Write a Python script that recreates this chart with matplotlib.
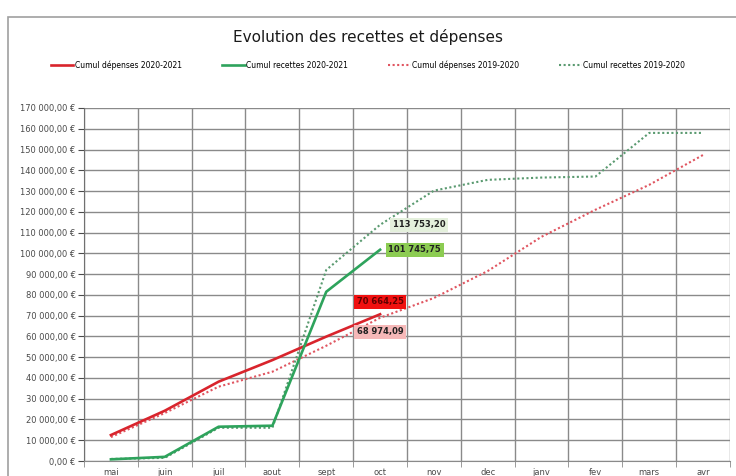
import matplotlib.pyplot as plt
from matplotlib.patches import Rectangle
from matplotlib.ticker import FuncFormatter

months = ["mai", "juin", "juil", "aout", "sept", "oct", "nov", "dec", "janv", "fev", "mars", "avr"]
dep_2021 = [12500, 24200, 38200, 48600, 59900, 70664.25]
rec_2021 = [800, 2000, 16500, 17000, 81500, 101745.75]
dep_1920 = [11500, 23100, 35800, 43000, 55500, 68974.09, 78500, 91500, 108000, 121000, 133000, 147400]
rec_1920 = [1000, 1500, 16000, 16000, 92000, 113753.20, 130200, 135400, 136500, 137000, 158000, 158000]


def euro(v, pos=None):
    return "{:,.2f} €".format(v).replace(",", " ").replace(".", ",")


def num(v):
    return "{:,.2f}".format(v).replace(",", " ").replace(".", ",")


fig = plt.figure(figsize=(7.36, 4.76), dpi=100)
fig.patches.append(Rectangle((8 / 736, -0.1), 1.0, (476 - 17) / 476 + 0.1,
                             transform=fig.transFigure, fill=False,
                             edgecolor="#a0a0a0", lw=1.2))
ax = fig.add_axes([84 / 736, 15 / 476, 646 / 736, 353 / 476])

x1 = range(len(dep_2021))
x2 = range(len(dep_1920))
ax.plot(x1, dep_2021, color="#d9242c", lw=1.9, label="Cumul dépenses 2020-2021", zorder=4)
ax.plot(x1, rec_2021, color="#2ea35c", lw=1.9, label="Cumul recettes 2020-2021", zorder=4)
ax.plot(x2, dep_1920, color="#e05560", lw=1.5, ls=(0, (1, 1.2)), label="Cumul dépenses 2019-2020", zorder=3)
ax.plot(x2, rec_1920, color="#5a9a70", lw=1.5, ls=(0, (1, 1.2)), label="Cumul recettes 2019-2020", zorder=3)

ax.set_xlim(-0.5, len(months) - 0.5)
ax.set_ylim(0, 170000)
ax.set_yticks(range(0, 170001, 10000))
ax.yaxis.set_major_formatter(FuncFormatter(euro))
ax.set_xticks(range(len(months)))
ax.set_xticklabels(months)
ax.set_xticks([i - 0.5 for i in range(len(months) + 1)], minor=True)
ax.grid(True, which="major", axis="y", color="#8a8a8a", lw=1)
ax.grid(True, which="minor", axis="x", color="#8a8a8a", lw=1)
ax.tick_params(axis="y", labelsize=6, colors="#4a4a4a", length=4, width=0.8, pad=2)
ax.tick_params(axis="x", which="major", labelsize=6, colors="#4a4a4a", length=0, pad=5)
ax.tick_params(axis="x", which="minor", length=4, color="#8a8a8a")
for s in ["top", "right"]:
    ax.spines[s].set_visible(False)
ax.spines["left"].set_color("#707070")
ax.spines["bottom"].set_color("#8a8a8a")

i = len(dep_2021) - 1
ax.annotate(num(rec_1920[i]), (i, rec_1920[i]), xytext=(9, 0), textcoords="offset points",
            fontsize=6, fontweight="bold", va="center", ha="left", color="#202020",
            bbox=dict(boxstyle="square,pad=0.3", fc="#e4f0dc", ec="none"), zorder=6)
ax.annotate(num(rec_2021[i]), (i, rec_2021[i]), xytext=(6, 0), textcoords="offset points",
            fontsize=6, fontweight="bold", va="center", ha="left", color="#202020",
            bbox=dict(boxstyle="square,pad=0.3", fc="#8ccc52", ec="none"), zorder=6)
ax.annotate(num(dep_2021[i]), (i, dep_2021[i]), xytext=(0, 9), textcoords="offset points",
            fontsize=6, fontweight="bold", va="center", ha="center", color="#600000",
            bbox=dict(boxstyle="square,pad=0.3", fc="#f01010", ec="none"), zorder=6)
ax.annotate(num(dep_1920[i]), (i, dep_1920[i]), xytext=(0, -10), textcoords="offset points",
            fontsize=6, fontweight="bold", va="center", ha="center", color="#202020",
            bbox=dict(boxstyle="square,pad=0.3", fc="#f6b8b8", ec="none"), zorder=6)

fig.text(0.5, 1 - 37 / 476, "Evolution des recettes et dépenses", ha="center", va="center",
         fontsize=11, color="#1a1a1a")
fig.legend(loc="center", bbox_to_anchor=(0.5, 1 - 65 / 476), ncol=4, frameon=False,
           fontsize=5.5, handlelength=3.0, columnspacing=5.2, handletextpad=0.2)

fig.savefig("out.png", dpi=100)
